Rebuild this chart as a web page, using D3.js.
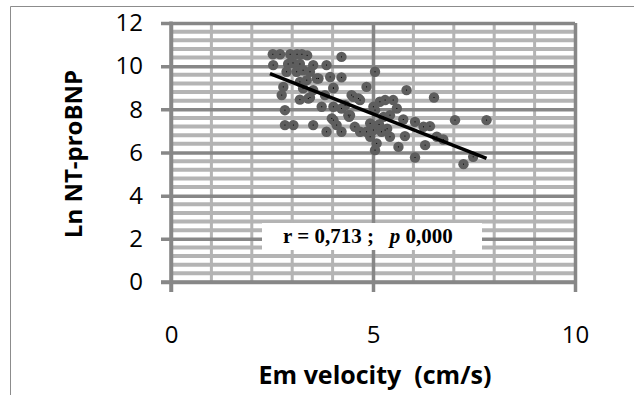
<!DOCTYPE html>
<html>
<head>
<meta charset="utf-8">
<title>Em velocity vs Ln NT-proBNP</title>
<script src="https://d3js.org/d3.v7.min.js"></script>
<style>
    html, body { margin: 0; padding: 0; background: white; }
    svg { display: block; }
    .tick text { font-family: "Open Sans", sans-serif; font-size: 24px; fill: #000; }
    .title { font-family: "Open Sans", sans-serif; font-weight: bold; font-size: 24px; fill: #000; }
    .stat { font-family: "Liberation Serif", "DejaVu Serif", serif; font-weight: bold; font-size: 21px; fill: #000; }
</style>
</head>
<body>
<div id="graph"></div>
<script>
// data
var emVelocity = [2.52, 2.70, 2.95, 3.12, 3.24, 3.37, 4.22, 2.53, 2.90, 3.02,
                  3.19, 3.52, 3.85, 5.05, 2.86, 3.11, 3.27, 3.44, 3.61, 3.94,
                  4.22, 2.78, 2.74, 3.19, 3.36, 3.27, 3.52, 4.02, 3.19, 3.44,
                  3.73, 4.02, 4.22, 4.51, 4.68, 4.84, 2.82, 4.39, 2.82, 3.03,
                  3.52, 3.85, 4.10, 4.22, 4.55, 4.68, 4.93, 5.01, 5.09, 5.05,
                  5.26, 5.42, 5.50, 5.59, 5.42, 5.21, 4.93, 5.83, 6.51, 5.17,
                  5.30, 5.05, 5.75, 6.04, 7.03, 7.81, 5.79, 6.25, 6.41, 6.29,
                  6.58, 6.74, 5.63, 6.04, 7.24, 7.48, 5.30, 4.84, 4.02, 4.41,
                  3.98, 4.43, 5.01, 4.31, 4.64, 4.47, 3.81, 3.40, 3.65, 4.02,
                  5.15, 5.35];
var lnNtProBnp = [10.55, 10.55, 10.55, 10.55, 10.55, 10.50, 10.43, 10.05, 10.10, 10.15,
                  10.10, 10.05, 10.05, 9.74, 9.74, 9.74, 9.81, 9.74, 9.43, 9.50,
                  9.48, 9.04, 8.66, 9.27, 9.35, 8.97, 8.89, 8.97, 8.45, 8.55,
                  8.12, 8.12, 8.04, 8.58, 8.43, 9.04, 7.96, 7.73, 7.27, 7.27,
                  7.27, 6.96, 7.27, 6.96, 7.19, 6.96, 7.35, 7.04, 6.42, 6.11,
                  7.65, 7.73, 8.43, 8.04, 6.73, 6.96, 6.73, 8.89, 8.55, 8.35,
                  8.43, 7.96, 7.53, 7.42, 7.50, 7.50, 6.76, 7.19, 7.22, 6.34,
                  6.73, 6.60, 6.26, 5.77, 5.46, 5.80, 7.04, 6.96, 7.50, 7.65,
                  7.58, 7.73, 8.12, 8.19, 8.50, 8.66, 8.66, 8.50, 9.43, 9.00,
                  7.30, 7.10];
var trendX = [2.45, 7.81];
var trendY = [9.66, 5.73];
var xTicks = [0, 5, 10];
var yTicks = [0, 2, 4, 6, 8, 10, 12];

var W = 634, H = 395;
var svg = d3.select("#graph").append("svg")
    .attr("width", W)
    .attr("height", H);

// outer chart border (only top and left visible)
svg.append("path")
    .attr("d", "M10.5,395V6.5H634")
    .attr("fill", "none")
    .attr("stroke", "#8c8c8c")
    .attr("stroke-width", 1);

var x = d3.scaleLinear().domain([0, 10]).range([171, 575]);
var y = d3.scaleLinear().domain([0, 12]).range([282, 23]);

var minorGrey = "#b4b4b4", majorGrey = "#878787";

// minor gridlines
svg.append("g").selectAll("line")
    .data(d3.range(1, 30).map(function(i) { return i * 0.4; })
        .filter(function(d) { return i5(d) % 5 !== 0; }))
    .enter().append("line")
    .attr("x1", x(0)).attr("x2", x(10))
    .attr("y1", function(d) { return y(d); })
    .attr("y2", function(d) { return y(d); })
    .attr("stroke", minorGrey).attr("stroke-width", 4);

function i5(d) { return Math.round(d / 0.4); }

svg.append("g").selectAll("line")
    .data(d3.range(1, 10).filter(function(d) { return d !== 5; }))
    .enter().append("line")
    .attr("x1", function(d) { return x(d); })
    .attr("x2", function(d) { return x(d); })
    .attr("y1", y(12)).attr("y2", y(0))
    .attr("stroke", minorGrey).attr("stroke-width", 3);

// y axis with major gridlines
var yAxis = d3.axisLeft(y)
    .tickValues(yTicks)
    .tickSize(-(x(10) - x(0)))
    .tickPadding(28)
    .tickSizeOuter(0);

var yGroup = svg.append("g")
    .attr("transform", "translate(" + x(0) + ",0)")
    .call(yAxis);
yGroup.select(".domain").remove();
yGroup.selectAll(".tick line")
    .attr("x1", -10)
    .attr("stroke", majorGrey).attr("stroke-width", 3.5);

// x axis with major gridlines
var xAxis = d3.axisBottom(x)
    .tickValues(xTicks)
    .tickSize(-(y(0) - y(12)))
    .tickPadding(44)
    .tickSizeOuter(0);

var xGroup = svg.append("g")
    .attr("transform", "translate(0," + y(0) + ")")
    .call(xAxis);
xGroup.select(".domain").remove();
xGroup.selectAll(".tick line")
    .attr("y1", 10)
    .attr("stroke", majorGrey).attr("stroke-width", 3.5);

// axis lines on top
svg.append("line")
    .attr("x1", x(0)).attr("x2", x(0))
    .attr("y1", y(12) - 1.5).attr("y2", y(0) + 10)
    .attr("stroke", majorGrey).attr("stroke-width", 3.5);
svg.append("line")
    .attr("x1", x(0) - 10).attr("x2", x(10) + 1.5)
    .attr("y1", y(0)).attr("y2", y(0))
    .attr("stroke", majorGrey).attr("stroke-width", 3.5);

// points
var pts = emVelocity.map(function(v, i) { return { em: v, bnp: lnNtProBnp[i] }; });

svg.append("g").selectAll("circle")
    .data(pts)
    .enter().append("circle")
    .attr("cx", function(d) { return x(d.em); })
    .attr("cy", function(d) { return y(d.bnp); })
    .attr("r", 5.2)
    .attr("fill", "#5e5e5e");

svg.append("g").selectAll("rect")
    .data(pts)
    .enter().append("rect")
    .attr("x", function(d) { return x(d.em) - 0.5; })
    .attr("y", function(d) { return y(d.bnp) - 0.5; })
    .attr("width", 1).attr("height", 1)
    .attr("fill", "#000");

// trend line
svg.append("line")
    .attr("x1", x(trendX[0])).attr("y1", y(trendY[0]))
    .attr("x2", x(trendX[1])).attr("y2", y(trendY[1]))
    .attr("stroke", "#000").attr("stroke-width", 3.5);

// correlation label
svg.append("rect")
    .attr("x", 262).attr("y", 223)
    .attr("width", 220).attr("height", 27)
    .attr("fill", "#fff");

var stat = svg.append("text")
    .attr("class", "stat")
    .attr("x", 283).attr("y", 243)
    .style("white-space", "pre");
stat.append("tspan").text("r = 0,713 ;   ");
stat.append("tspan").style("font-style", "italic").text("p");
stat.append("tspan").text(" 0,000");

// axis titles
svg.append("text")
    .attr("class", "title")
    .attr("transform", "translate(82,154) rotate(-90)")
    .attr("text-anchor", "middle")
    .text("Ln NT-proBNP");

svg.append("text")
    .attr("class", "title")
    .attr("x", 375).attr("y", 384)
    .attr("text-anchor", "middle")
    .style("font-size", "25px")
    .style("white-space", "pre")
    .text("Em velocity  (cm/s)");
</script>
</body>
</html>
